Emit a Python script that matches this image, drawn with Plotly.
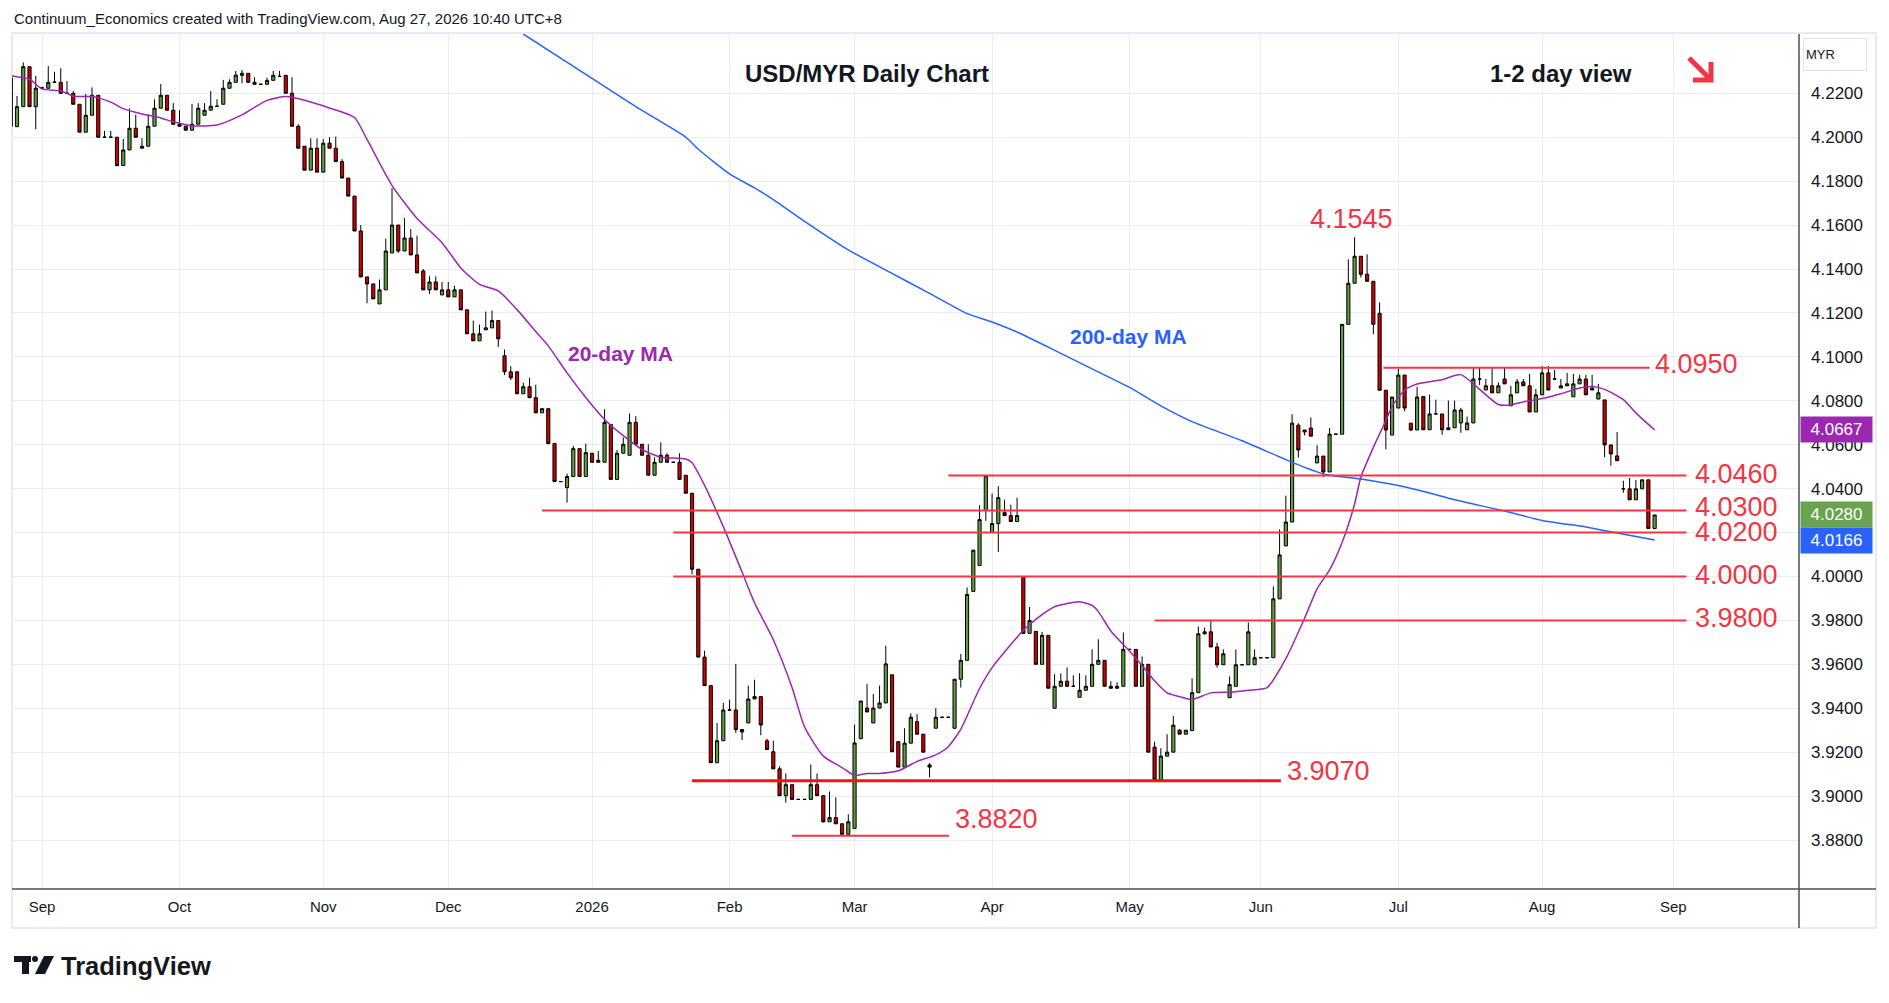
import numpy as np
import pandas as pd
import plotly.graph_objects as go

# USD/MYR daily candles, one bar per weekday, 25 Aug 2025 .. 27 Aug 2026
first_day = "2025-08-25"

opens = [
    4.2270, 4.2048, 4.2139, 4.2321, 4.2139,  # Aug 25
    4.2223, 4.2223, 4.2250, 4.2250, 4.2200, 4.2200, 4.2150, 4.2023, 4.2100, 4.2191, 4.2000, 4.2000, 4.2000, 4.1871, 4.1942, 4.2041, 4.1950, 4.1959, 4.2050, 4.2132, 4.2191, 4.2123,  # Sep
    4.2059, 4.2050, 4.2032, 4.2059, 4.2100, 4.2123, 4.2141, 4.2150, 4.2223, 4.2250, 4.2282, 4.2291, 4.2250, 4.2241, 4.2241, 4.2259, 4.2277, 4.2282, 4.2200, 4.2050, 4.1959, 4.1850, 4.1950,  # Oct
    4.1841, 4.1973, 4.1950, 4.1889, 4.1814, 4.1732, 4.1573, 4.1364, 4.1332, 4.1241, 4.1305, 4.1473, 4.1600, 4.1482, 4.1541, 4.1464, 4.1391, 4.1305, 4.1341, 4.1282,  # Nov
    4.1305, 4.1273, 4.1305, 4.1214, 4.1105, 4.1073, 4.1123, 4.1132, 4.1165, 4.1005, 4.0932, 4.0932, 4.0832, 4.0864, 4.0814, 4.0745, 4.0764, 4.0605, 4.0432, 4.0405, 4.0455, 4.0582, 4.0455,  # Dec
    4.0561, 4.0529, 4.0520, 4.0692, 4.0442, 4.0561, 4.0552, 4.0702, 4.0602, 4.0552, 4.0461, 4.0520, 4.0552, 4.0520, 4.0520, 4.0461, 4.0379, 4.0033, 3.9633, 3.9503, 3.9152, 3.9252,  # Jan
    3.9392, 3.9392, 3.9303, 3.9333, 3.9442, 3.9453, 3.9252, 3.9202, 3.9124, 3.9002, 3.9052, 3.8985, 3.8985, 3.8985, 3.9052, 3.9002, 3.8883, 3.8902, 3.8874, 3.8826,  # Feb
    3.8853, 3.9261, 3.9401, 3.9333, 3.9401, 3.9424, 3.9552, 3.9248, 3.9132, 3.9241, 3.9339, 3.9282, 3.9142, 3.9309, 3.9359, 3.9359, 3.9309, 3.9532, 3.9618, 3.9932, 4.0050, 4.0300,  # Mar
    4.0200, 4.0241, 4.0291, 4.0277, 4.0250, 4.0000, 3.9741, 3.9750, 3.9600, 3.9732, 3.9400, 3.9500, 3.9523, 3.9500, 3.9450, 3.9482, 3.9500, 3.9600, 3.9618, 3.9500, 3.9491, 3.9500,  # Apr
    3.9668, 3.9668, 3.9500, 3.9600, 3.9223, 3.9074, 3.9182, 3.9200, 3.9300, 3.9282, 3.9298, 3.9471, 3.9739, 3.9748, 3.9679, 3.9598, 3.9448, 3.9500, 3.9598, 3.9598, 3.9598,  # May
    3.9630, 3.9630, 3.9630, 3.9898, 4.0139, 4.0248, 4.0689, 4.0658, 4.0676, 4.0517, 4.0548, 4.0476, 4.0648, 4.0648, 4.1148, 4.1335, 4.1458, 4.1376, 4.1344, 4.1198, 4.0848, 4.0644,  # Jun
    4.0767, 4.0917, 4.0698, 4.0667, 4.0819, 4.0668, 4.0740, 4.0740, 4.0668, 4.0677, 4.0699, 4.0668, 4.0699, 4.0899, 4.0849, 4.0868, 4.0836, 4.0899, 4.0777, 4.0836, 4.0886, 4.0868, 4.0749,  # Jul
    4.0827, 4.0927, 4.0899, 4.0858, 4.0868, 4.0818, 4.0877, 4.0899, 4.0858, 4.0808, 4.0804, 4.0599, 4.0549, 4.0399, 4.0399, 4.0349, 4.0399, 4.0440, 4.0218,  # Aug
]
highs = [
    4.2275, 4.2188, 4.2341, 4.2321, 4.2279,
    4.2230, 4.2324, 4.2298, 4.2314, 4.2256, 4.2211, 4.2150, 4.2197, 4.2227, 4.2191, 4.2029, 4.2029, 4.2000, 4.1992, 4.2132, 4.2102, 4.1995, 4.2105, 4.2173, 4.2242, 4.2191, 4.2155,
    4.2123, 4.2050, 4.2152, 4.2155, 4.2155, 4.2211, 4.2173, 4.2261, 4.2264, 4.2302, 4.2306, 4.2291, 4.2273, 4.2241, 4.2271, 4.2302, 4.2302, 4.2282, 4.2273, 4.2059, 4.1959, 4.1995, 4.1995,
    4.1992, 4.2000, 4.2003, 4.1900, 4.1814, 4.1732, 4.1600, 4.1364, 4.1332, 4.1352, 4.1538, 4.1768, 4.1600, 4.1632, 4.1582, 4.1552, 4.1400, 4.1367, 4.1367, 4.1341,
    4.1341, 4.1324, 4.1305, 4.1214, 4.1165, 4.1147, 4.1206, 4.1211, 4.1165, 4.1033, 4.0958, 4.0932, 4.0882, 4.0905, 4.0873, 4.0764, 4.0764, 4.0605, 4.0432, 4.0468, 4.0595, 4.0582, 4.0605,
    4.0561, 4.0571, 4.0761, 4.0692, 4.0576, 4.0633, 4.0742, 4.0730, 4.0602, 4.0602, 4.0542, 4.0611, 4.0561, 4.0520, 4.0561, 4.0461, 4.0379, 4.0033, 3.9662, 3.9503, 3.9333, 3.9424,
    3.9439, 3.9602, 3.9303, 3.9503, 3.9530, 3.9453, 3.9261, 3.9252, 3.9136, 3.9103, 3.9052, 3.8985, 3.8985, 3.9144, 3.9103, 3.9002, 3.9021, 3.8994, 3.8874, 3.8917,
    3.9326, 3.9433, 3.9511, 3.9465, 3.9503, 3.9685, 3.9552, 3.9248, 3.9309, 3.9377, 3.9373, 3.9282, 3.9150, 3.9400, 3.9359, 3.9359, 3.9532, 3.9647, 3.9950, 4.0120, 4.0324, 4.0459,
    4.0377, 4.0411, 4.0350, 4.0327, 4.0359, 4.0000, 3.9861, 3.9750, 3.9748, 3.9732, 3.9555, 3.9559, 3.9586, 3.9550, 3.9559, 3.9550, 3.9668, 3.9714, 3.9618, 3.9523, 3.9518, 3.9745,
    3.9668, 3.9668, 3.9636, 3.9600, 3.9248, 3.9218, 3.9282, 3.9365, 3.9305, 3.9300, 3.9536, 3.9773, 3.9767, 3.9800, 3.9698, 3.9668, 3.9545, 3.9668, 3.9598, 3.9791, 3.9668,
    3.9630, 3.9630, 3.9955, 4.0214, 4.0368, 4.0739, 4.0698, 4.0667, 4.0724, 4.0598, 4.0548, 4.0676, 4.0648, 4.1148, 4.1444, 4.1545, 4.1458, 4.1467, 4.1344, 4.1248, 4.0848, 4.0817,
    4.0945, 4.0917, 4.0698, 4.0864, 4.0819, 4.0828, 4.0805, 4.0740, 4.0801, 4.0801, 4.0768, 4.0728, 4.0949, 4.0949, 4.0899, 4.0949, 4.0884, 4.0949, 4.0868, 4.0899, 4.0899, 4.0922, 4.0854,
    4.0958, 4.0958, 4.0940, 4.0899, 4.0927, 4.0922, 4.0918, 4.0918, 4.0918, 4.0877, 4.0804, 4.0599, 4.0658, 4.0436, 4.0449, 4.0440, 4.0440, 4.0440, 4.0280,
]
lows = [
    4.2047, 4.2048, 4.2139, 4.2139, 4.2036,
    4.2218, 4.2223, 4.2250, 4.2200, 4.2198, 4.2150, 4.2023, 4.2023, 4.2100, 4.2000, 4.2000, 4.2000, 4.1867, 4.1871, 4.1942, 4.2000, 4.1950, 4.1959, 4.2050, 4.2132, 4.2123, 4.2059,
    4.2050, 4.2032, 4.2032, 4.2059, 4.2100, 4.2123, 4.2141, 4.2150, 4.2223, 4.2250, 4.2245, 4.2250, 4.2241, 4.2241, 4.2241, 4.2259, 4.2277, 4.2200, 4.2050, 4.1950, 4.1850, 4.1850, 4.1841,
    4.1841, 4.1950, 4.1889, 4.1814, 4.1732, 4.1573, 4.1364, 4.1244, 4.1264, 4.1241, 4.1305, 4.1473, 4.1473, 4.1482, 4.1464, 4.1382, 4.1305, 4.1286, 4.1305, 4.1282,
    4.1273, 4.1273, 4.1214, 4.1105, 4.1073, 4.1073, 4.1123, 4.1132, 4.1045, 4.0917, 4.0894, 4.0832, 4.0832, 4.0814, 4.0745, 4.0745, 4.0605, 4.0432, 4.0432, 4.0336, 4.0455, 4.0455, 4.0455,
    4.0520, 4.0520, 4.0520, 4.0442, 4.0442, 4.0561, 4.0552, 4.0602, 4.0552, 4.0461, 4.0461, 4.0520, 4.0520, 4.0520, 4.0442, 4.0379, 4.0010, 3.9633, 3.9503, 3.9152, 3.9152, 3.9252,
    3.9392, 3.9288, 3.9255, 3.9333, 3.9442, 3.9277, 3.9212, 3.9124, 3.9002, 3.8970, 3.8985, 3.8985, 3.8985, 3.8985, 3.9002, 3.8879, 3.8883, 3.8874, 3.8820, 3.8820,
    3.8853, 3.9261, 3.9383, 3.9333, 3.9401, 3.9424, 3.9202, 3.9132, 3.9132, 3.9241, 3.9282, 3.9200, 3.9085, 3.9309, 3.9359, 3.9359, 3.9305, 3.9494, 3.9618, 3.9932, 4.0050, 4.0253,
    4.0200, 4.0112, 4.0277, 4.0250, 4.0250, 3.9741, 3.9741, 3.9600, 3.9600, 3.9491, 3.9400, 3.9500, 3.9500, 3.9500, 3.9450, 3.9482, 3.9500, 3.9600, 3.9500, 3.9491, 3.9491, 3.9500,
    3.9668, 3.9500, 3.9500, 3.9200, 3.9070, 3.9070, 3.9182, 3.9200, 3.9282, 3.9282, 3.9298, 3.9471, 3.9735, 3.9679, 3.9585, 3.9598, 3.9448, 3.9500, 3.9598, 3.9598, 3.9598,
    3.9630, 3.9630, 3.9630, 3.9898, 4.0139, 4.0248, 4.0542, 4.0642, 4.0639, 4.0517, 4.0452, 4.0476, 4.0648, 4.0648, 4.1148, 4.1335, 4.1361, 4.1344, 4.1103, 4.0848, 4.0579, 4.0644,
    4.0767, 4.0752, 4.0662, 4.0667, 4.0668, 4.0668, 4.0740, 4.0645, 4.0668, 4.0677, 4.0654, 4.0668, 4.0699, 4.0872, 4.0849, 4.0836, 4.0836, 4.0877, 4.0777, 4.0836, 4.0868, 4.0749, 4.0749,
    4.0827, 4.0849, 4.0899, 4.0858, 4.0868, 4.0818, 4.0877, 4.0827, 4.0849, 4.0808, 4.0543, 4.0504, 4.0527, 4.0381, 4.0349, 4.0349, 4.0399, 4.0218, 4.0218,
]
closes = [
    4.2050, 4.2139, 4.2321, 4.2139, 4.2223,
    4.2225, 4.2250, 4.2251, 4.2200, 4.2200, 4.2150, 4.2023, 4.2100, 4.2191, 4.2000, 4.2000, 4.2000, 4.1871, 4.1942, 4.2041, 4.2000, 4.1959, 4.2050, 4.2132, 4.2191, 4.2123, 4.2059,
    4.2050, 4.2032, 4.2059, 4.2132, 4.2123, 4.2141, 4.2141, 4.2223, 4.2250, 4.2283, 4.2291, 4.2250, 4.2241, 4.2241, 4.2259, 4.2282, 4.2277, 4.2200, 4.2050, 4.1950, 4.1850, 4.1950, 4.1841,
    4.1973, 4.1950, 4.1889, 4.1814, 4.1732, 4.1573, 4.1364, 4.1332, 4.1264, 4.1305, 4.1482, 4.1600, 4.1482, 4.1541, 4.1464, 4.1382, 4.1305, 4.1341, 4.1305, 4.1305,
    4.1273, 4.1305, 4.1214, 4.1105, 4.1073, 4.1105, 4.1132, 4.1165, 4.1082, 4.0932, 4.0905, 4.0832, 4.0864, 4.0814, 4.0745, 4.0764, 4.0605, 4.0432, 4.0432, 4.0455, 4.0582, 4.0455, 4.0564,
    4.0520, 4.0520, 4.0702, 4.0442, 4.0561, 4.0602, 4.0702, 4.0602, 4.0552, 4.0461, 4.0520, 4.0552, 4.0520, 4.0520, 4.0442, 4.0379, 4.0033, 3.9633, 3.9503, 3.9152, 3.9252, 3.9392,
    3.9392, 3.9303, 3.9292, 3.9442, 3.9453, 3.9324, 3.9212, 3.9124, 3.9002, 3.9052, 3.8985, 3.8985, 3.8985, 3.9052, 3.9002, 3.8883, 3.8902, 3.8874, 3.8826, 3.8883,
    3.9242, 3.9433, 3.9383, 3.9401, 3.9424, 3.9602, 3.9202, 3.9132, 3.9241, 3.9359, 3.9282, 3.9200, 3.9132, 3.9359, 3.9359, 3.9359, 3.9532, 3.9618, 3.9918, 4.0120, 4.0259, 4.0459,
    4.0241, 4.0359, 4.0277, 4.0250, 4.0277, 3.9741, 3.9800, 3.9600, 3.9732, 3.9491, 3.9500, 3.9523, 3.9500, 3.9500, 3.9482, 3.9500, 3.9600, 3.9618, 3.9500, 3.9491, 3.9500, 3.9668,
    3.9668, 3.9500, 3.9600, 3.9200, 3.9074, 3.9182, 3.9200, 3.9323, 3.9282, 3.9300, 3.9471, 3.9739, 3.9748, 3.9679, 3.9598, 3.9648, 3.9508, 3.9598, 3.9598, 3.9748, 3.9630,
    3.9630, 3.9630, 3.9898, 4.0098, 4.0248, 4.0698, 4.0576, 4.0667, 4.0639, 4.0548, 4.0476, 4.0648, 4.0648, 4.1148, 4.1335, 4.1458, 4.1376, 4.1344, 4.1148, 4.0848, 4.0667, 4.0817,
    4.0917, 4.0767, 4.0667, 4.0817, 4.0668, 4.0740, 4.0740, 4.0668, 4.0677, 4.0758, 4.0758, 4.0699, 4.0899, 4.0899, 4.0868, 4.0836, 4.0868, 4.0877, 4.0827, 4.0886, 4.0868, 4.0749, 4.0827,
    4.0927, 4.0849, 4.0899, 4.0868, 4.0877, 4.0877, 4.0899, 4.0827, 4.0849, 4.0836, 4.0599, 4.0558, 4.0527, 4.0399, 4.0349, 4.0399, 4.0440, 4.0218, 4.0280,
]

# moving averages (bar 0 = 1 Sep 2025)
ma20_bar = [-5, -2, 0, 3, 5, 8, 11, 13, 16, 19, 21, 24, 28, 32, 36, 39, 42, 46, 50, 52, 56, 60, 64, 67, 70, 73,
            76, 79, 81, 84, 87, 90, 93, 96, 99, 103, 104, 106, 109, 112, 114, 117, 120, 122, 125, 128, 130, 132,
            134, 137, 140, 143, 145, 147, 150, 152, 155, 157, 159, 162, 166, 168, 169, 171, 174, 176, 178, 180,
            182, 184, 187, 190, 193, 196, 199, 202, 204, 206, 208, 210, 211, 213, 215, 216, 218, 220, 224, 227,
            230, 233, 235, 237, 240, 243, 246, 248, 250, 253, 255, 258]
ma20_val = [4.2280, 4.2264, 4.2220, 4.2211, 4.2187, 4.2185, 4.2160, 4.2130, 4.2106, 4.2088, 4.2070, 4.2052,
            4.2056, 4.2102, 4.2168, 4.2185, 4.2168, 4.2133, 4.2090, 4.1990, 4.1780, 4.1630, 4.1520, 4.1405,
            4.1330, 4.1300, 4.1215, 4.1115, 4.1050, 4.0927, 4.0815, 4.0715, 4.0641, 4.0578, 4.0543, 4.0535,
            4.0518, 4.0415, 4.0227, 4.0020, 3.9880, 3.9712, 3.9495, 3.9315, 3.9182, 3.9130, 3.9094, 3.9103,
            3.9103, 3.9115, 3.9158, 3.9188, 3.9225, 3.9305, 3.9490, 3.9585, 3.9690, 3.9755, 3.9805, 3.9862,
            3.9885, 3.9868, 3.9840, 3.9752, 3.9660, 3.9595, 3.9525, 3.9470, 3.9453, 3.9440, 3.9470, 3.9473,
            3.9482, 3.9494, 3.9626, 3.9810, 3.9944, 4.0030, 4.0155, 4.0330, 4.0452, 4.0588, 4.0710, 4.0775,
            4.0848, 4.0876, 4.0896, 4.0919, 4.0852, 4.0783, 4.0781, 4.0795, 4.0810, 4.0832, 4.0858, 4.0865,
            4.0852, 4.0805, 4.0745, 4.0667]
ma200_bar = [77, 88, 95, 103, 105, 110, 114, 117, 122, 129, 135, 142, 148, 152, 156, 161, 168, 174, 179, 184,
             192, 200, 205, 211, 217, 222, 226, 234, 240, 247, 252, 258]
ma200_val = [4.2470, 4.2268, 4.2139, 4.2000, 4.1945, 4.1833, 4.1769, 4.1716, 4.1617, 4.1487, 4.1395, 4.1289,
             4.1197, 4.1159, 4.1113, 4.1044, 4.0945, 4.0861, 4.0777, 4.0705, 4.0618, 4.0520, 4.0467, 4.0444,
             4.0414, 4.0380, 4.0349, 4.0298, 4.0255, 4.0225, 4.0198, 4.0166]

levels = [4.0950, 4.0460, 4.0300, 4.0200, 4.0000, 3.9800, 3.9070, 3.8820]
swing_high = 4.1545
last_close, last_ma20, last_ma200 = 4.0280, 4.0667, 4.0166
month_names = ["Sep", "Oct", "Nov", "Dec", "2026", "Feb", "Mar", "Apr", "May", "Jun", "Jul", "Aug", "Sep"]
price_ticks = [round(3.88 + 0.02 * i, 2) for i in range(18)]

# bar numbers: 0 is 1 Sep 2025, weekends skipped
days = pd.bdate_range(first_day, periods=len(opens))
offset = days.get_loc(pd.Timestamp("2025-09-01"))
bars = np.arange(len(opens)) - offset
cal = pd.bdate_range(first_day, "2026-09-30")
pos = pd.Series(np.arange(len(cal)), index=cal)
month_pos = (pos.groupby(cal.to_period("M")).first().values - offset)[1:]

GREEN, RED = "#5e9e40", "#cc0000"
LEVEL = "#f23645"
PURPLE, BLUE = "#9c27b0", "#2962ff"
TXT, GRID = "#131722", "#e8edf3"
FONT = "Liberation Sans"

# page pixels: the html body adds an 8px margin around the figure
PAGE_W, PAGE_H, BODY = 1889, 1003, 8
PL, PR, PT, PB = 12, 1799, 34, 889   # plot area on the page


def px(x):
    return (x - PL) / (PR - PL)


def py(y):
    return (PB - y) / (PB - PT)


def path(pts, close=False):
    s = "M " + " L ".join(f"{px(a):.5f},{py(b):.5f}" for a, b in pts)
    return s + (" Z" if close else "")


fig = go.Figure()
fig.add_trace(go.Candlestick(
    x=bars, open=opens, high=highs, low=lows, close=closes,
    increasing=dict(fillcolor=GREEN, line=dict(color="#000000", width=1)),
    decreasing=dict(fillcolor=RED, line=dict(color="#000000", width=1)),
    whiskerwidth=0, hoverinfo="skip"))
fig.add_trace(go.Scatter(x=ma20_bar, y=ma20_val, mode="lines", hoverinfo="skip",
                         line=dict(color=PURPLE, width=1.5, shape="spline", smoothing=0.6)))
fig.add_trace(go.Scatter(x=ma200_bar, y=ma200_val, mode="lines", hoverinfo="skip",
                         line=dict(color=BLUE, width=1.5, shape="spline", smoothing=0.6)))

shapes = []
annotations = []

# support / resistance lines and their labels
line_from = [214.6, 145, 80, 101, 101, 178, 104, 120]
line_to = [257.2, 263.1, 263.1, 263.1, 263.1, 263.1, 198.2, 145.1]
label_x = [257.8, 264.2, 264.2, 264.2, 264.2, 264.2, 198.9, 145.8]
label_shift = [4, 1, 4, 1, 1, 2, 10, 0]
for lv, x0, x1, lx, sh in zip(levels, line_from, line_to, label_x, label_shift):
    strong = lv == 3.9070
    shapes.append(dict(type="line", xref="x", yref="y", x0=x0, x1=x1, y0=lv, y1=lv,
                       line=dict(color="#ff1010" if strong else LEVEL, width=3 if strong else 2)))
    annotations.append(dict(x=lx, y=lv, xref="x", yref="y", text=f"{lv:.4f}", showarrow=False,
                            xanchor="left", yanchor="bottom" if lv == 3.8820 else "middle", yshift=sh,
                            font=dict(family=FONT, size=27, color=LEVEL)))
annotations.append(dict(x=209.5, y=swing_high, xref="x", yref="y", text=f"{swing_high:.4f}",
                        showarrow=False, yanchor="bottom", yshift=1,
                        font=dict(family=FONT, size=27, color=LEVEL)))

# MA labels
annotations.append(dict(x=92.6, y=4.1017, xref="x", yref="y", text="<b>20-day MA</b>", showarrow=False,
                        font=dict(family=FONT, size=21, color=PURPLE)))
annotations.append(dict(x=173.8, y=4.1091, xref="x", yref="y", text="<b>200-day MA</b>", showarrow=False,
                        font=dict(family=FONT, size=21, color=BLUE)))


def page_text(x, y, text, size, anchor="center", bold=False):
    annotations.append(dict(x=px(x), y=py(y), xref="paper", yref="paper", xanchor=anchor, yanchor="middle",
                            text=f"<b>{text}</b>" if bold else text, showarrow=False,
                            font=dict(family=FONT, size=size, color=TXT)))


page_text(867, 73, "USD/MYR Daily Chart", 24, bold=True)
page_text(1561, 73, "1-2 day view", 24, bold=True)
page_text(12, 19, "Continuum_Economics created with TradingView.com, Aug 27, 2026 10:40 UTC+8", 15, "left")
page_text(59, 966, "TradingView", 25.5, "left", bold=True)

# price axis badges
for val, col in [(last_ma20, PURPLE), (last_close, "#69a34f"), (last_ma200, BLUE)]:
    annotations.append(dict(x=1, y=val, xref="paper", yref="y", xanchor="left", yanchor="middle", xshift=1,
                            text=f"{val:.4f}", showarrow=False, bgcolor=col, width=67, height=20.5,
                            borderpad=2, font=dict(family=FONT, size=17, color="white")))
annotations.append(dict(x=1, y=py(54.5), xref="paper", yref="paper", xanchor="left", yanchor="middle",
                        xshift=4, text="MYR", showarrow=False, bgcolor="white", bordercolor="#e0e3eb",
                        borderwidth=1, width=58, height=27, borderpad=2, align="left",
                        font=dict(family=FONT, size=13, color=TXT)))

# pane frame and axis separators
shapes.append(dict(type="rect", xref="paper", yref="paper", x0=px(12), x1=px(1876), y0=py(928), y1=py(33),
                   line=dict(color="#e0e3eb", width=1.5), layer="below"))
shapes.append(dict(type="line", xref="paper", yref="paper", x0=px(12), x1=px(1876), y0=py(889), y1=py(889),
                   line=dict(color="#4a4e5a", width=1.5)))
shapes.append(dict(type="line", xref="paper", yref="paper", x0=px(1799), x1=px(1799), y0=py(928), y1=py(34),
                   line=dict(color="#4a4e5a", width=1.5)))

# red "down" arrow
shapes.append(dict(type="path", xref="paper", yref="paper", path=path([(1689, 58), (1711, 80)]),
                   line=dict(color=LEVEL, width=5)))
shapes.append(dict(type="path", xref="paper", yref="paper", path=path([(1711, 62), (1711, 80), (1693, 80)]),
                   line=dict(color=LEVEL, width=5)))

# TradingView logo mark
for pts in ([(14, 956), (31, 956), (31, 962), (14, 962)],
            [(22, 956), (29, 956), (29, 974), (22, 974)],
            [(44, 956), (54, 956), (45, 974), (35, 974)]):
    shapes.append(dict(type="path", xref="paper", yref="paper", path=path(pts, True),
                       fillcolor=TXT, line=dict(width=0)))
shapes.append(dict(type="circle", xref="paper", yref="paper", x0=px(32), x1=px(38), y0=py(962), y1=py(956),
                   fillcolor=TXT, line=dict(width=0)))

fig_w, fig_h = PAGE_W - BODY, PAGE_H - BODY
fig.update_layout(
    width=fig_w, height=fig_h,
    margin=dict(l=PL - BODY, r=fig_w - (PR - BODY), t=PT - BODY, b=fig_h - (PB - BODY)),
    paper_bgcolor="white", plot_bgcolor="white",
    showlegend=False, hovermode=False, boxgap=0.28,
    shapes=shapes, annotations=annotations,
    xaxis=dict(range=[-4.8, 281.1], tickvals=month_pos, ticktext=month_names,
               showgrid=True, gridcolor=GRID, gridwidth=1, zeroline=False, showline=False,
               ticks="", ticklabelstandoff=7, rangeslider=dict(visible=False), fixedrange=True,
               tickfont=dict(family=FONT, size=15, color=TXT)),
    yaxis=dict(side="right", range=[3.8577, 4.2470],
               # the 4.0200 label sits under the price badges, as on the original
               tickvals=price_ticks,
               ticktext=["" if t == 4.02 else f"{t:.4f}" for t in price_ticks],
               showgrid=True, gridcolor=GRID, gridwidth=1, zeroline=False, showline=False,
               ticks="", ticklabelstandoff=11, fixedrange=True,
               tickfont=dict(family=FONT, size=17, color=TXT)),
)

fig.write_html("out.html")
